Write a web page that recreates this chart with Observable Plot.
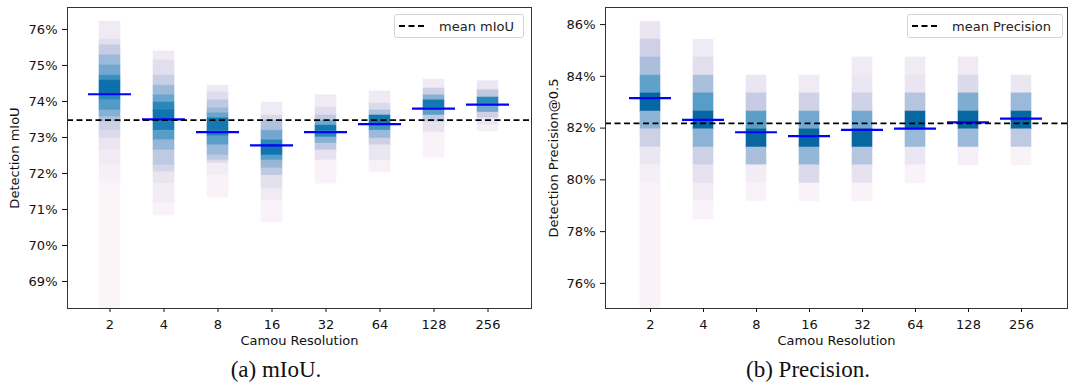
<!DOCTYPE html>
<html><head><meta charset="utf-8">
<script src="https://cdn.jsdelivr.net/npm/d3@7"></script>
<script src="https://cdn.jsdelivr.net/npm/@observablehq/plot@0.6"></script>
<style>
body{margin:0;background:#fff;}
#wrap{position:relative;width:1068px;height:383px;font-family:"DejaVu Sans",sans-serif;overflow:hidden;}
.panel{position:absolute;top:0;}
.legend{position:absolute;top:14px;height:24px;box-sizing:border-box;border:1px solid #d4d4d4;border-radius:3px;background:#fff;display:flex;align-items:center;font-size:13px;color:#222;}
.legend svg{flex:none;}
.caption{position:absolute;top:356px;line-height:28px;font-family:"Liberation Serif",serif;font-size:23px;color:#111;transform:translateX(-50%);white-space:nowrap;}
</style></head><body>
<div id="wrap">
  <div class="panel" id="left" style="left:0"></div>
  <div class="panel" id="right" style="left:534px"></div>
  <div class="legend" style="left:394px;width:130px"><svg width="44" height="10"><line x1="4" y1="5" x2="32" y2="5" stroke="#000" stroke-width="1.8" stroke-dasharray="6,3.5"/></svg><span>mean mIoU</span></div>
  <div class="legend" style="left:907px;width:156px"><svg width="44" height="10"><line x1="4" y1="5" x2="32" y2="5" stroke="#000" stroke-width="1.8" stroke-dasharray="6,3.5"/></svg><span>mean Precision</span></div>
  <div class="caption" style="left:276px">(a) mIoU.</div>
  <div class="caption" style="left:808px">(b) Precision.</div>
</div>
<script>
// ---------- categories & ticks ----------
const resolutions = ["2", "4", "8", "16", "32", "64", "128", "256"];
const miouTicks = [69, 70, 71, 72, 73, 74, 75, 76];
const precTicks = [76, 78, 80, 82, 84, 86];

// ---------- mIoU panel: density strips (bin edges top->bottom, densities per bin) ----------
const miouEdges2 = [76.22, 75.72, 75.56, 75.28, 75.00, 74.72, 74.58, 74.19, 74.03, 73.75, 73.56, 73.42, 73.19, 72.97, 72.64, 72.22, 71.81, 71.67, 68.25];
const miouDens2  = [0.10, 0.17, 0.28, 0.40, 0.50, 0.62, 0.76, 0.66, 0.57, 0.45, 0.35, 0.26, 0.20, 0.13, 0.09, 0.06, 0.04, 0.025];
const miouEdges4 = [75.39, 75.14, 74.72, 74.44, 74.17, 73.97, 73.75, 73.50, 73.19, 72.92, 72.64, 72.22, 72.03, 71.72, 71.17, 70.83];
const miouDens4  = [0.10, 0.17, 0.27, 0.40, 0.52, 0.66, 0.74, 0.70, 0.56, 0.42, 0.30, 0.22, 0.14, 0.08, 0.04];
const miouEdges8 = [74.44, 74.25, 74.03, 73.81, 73.67, 73.53, 73.17, 73.03, 72.78, 72.50, 72.36, 72.28, 71.94, 71.33];
const miouDens8  = [0.10, 0.18, 0.30, 0.40, 0.52, 0.72, 0.68, 0.55, 0.40, 0.30, 0.20, 0.08, 0.04];
const miouEdges16 = [73.97, 73.61, 73.47, 73.19, 72.92, 72.78, 72.50, 72.36, 72.14, 71.94, 71.58, 71.25, 70.64];
const miouDens16  = [0.10, 0.20, 0.35, 0.50, 0.66, 0.74, 0.56, 0.42, 0.30, 0.16, 0.10, 0.04];
const miouEdges32 = [74.17, 73.83, 73.61, 73.47, 73.33, 73.17, 73.00, 72.83, 72.64, 72.36, 71.72];
const miouDens32  = [0.10, 0.18, 0.30, 0.50, 0.72, 0.66, 0.45, 0.30, 0.15, 0.04];
const miouEdges64 = [74.28, 73.94, 73.75, 73.61, 73.36, 73.19, 72.97, 72.78, 72.36, 72.03];
const miouDens64  = [0.10, 0.20, 0.35, 0.72, 0.60, 0.40, 0.25, 0.12, 0.05];
const miouEdges128 = [74.61, 74.36, 74.17, 74.03, 73.81, 73.61, 73.42, 73.14, 72.44];
const miouDens128  = [0.10, 0.25, 0.45, 0.72, 0.55, 0.30, 0.15, 0.04];
const miouEdges256 = [74.56, 74.31, 74.11, 73.92, 73.69, 73.53, 73.33, 73.17];
const miouDens256  = [0.12, 0.30, 0.66, 0.50, 0.25, 0.12, 0.06];
const miouMeans = [74.20, 73.50, 73.15, 72.78, 73.15, 73.37, 73.80, 73.91];
const miouOverall = 73.48;

// ---------- Precision panel: shared bin edges (top->bottom), densities per bin ----------
const precEdges = [86.11, 85.42, 84.73, 84.03, 83.34, 82.64, 81.95, 81.25, 80.56, 79.86, 79.17, 78.47, 77.78, 77.08, 76.39, 75.69, 75.00];
const precDens2   = [0.13, 0.25, 0.36, 0.54, 0.80, 0.44, 0.25, 0.12, 0.07, 0.04, 0.04, 0.04, 0.04, 0.04, 0.04, 0.04];
const precDens4   = [null, 0.10, 0.17, 0.36, 0.56, 0.80, 0.44, 0.25, 0.15, 0.08, 0.04];
const precDens8   = [null, null, null, 0.13, 0.28, 0.55, 0.80, 0.36, 0.08, 0.04];
const precDens16  = [null, null, null, 0.10, 0.24, 0.50, 0.80, 0.42, 0.20, 0.04];
const precDens32  = [null, null, 0.10, 0.12, 0.24, 0.50, 0.80, 0.33, 0.15, 0.04];
const precDens64  = [null, null, 0.10, 0.13, 0.33, 0.80, 0.40, 0.12, 0.04];
const precDens128 = [null, null, 0.10, 0.20, 0.47, 0.80, 0.40, 0.06];
const precDens256 = [null, null, null, 0.12, 0.40, 0.80, 0.30, 0.04];
const precMeans = [83.16, 82.32, 81.84, 81.69, 81.93, 81.98, 82.22, 82.37];
const precOverall = 82.18;

// ---------- build tables ----------
const miouEdges = [miouEdges2, miouEdges4, miouEdges8, miouEdges16, miouEdges32, miouEdges64, miouEdges128, miouEdges256];
const miouDens = [miouDens2, miouDens4, miouDens8, miouDens16, miouDens32, miouDens64, miouDens128, miouDens256];
const miouRows = [];
resolutions.forEach((c, i) => miouDens[i].forEach((d, j) => miouRows.push({cat: c, hi: miouEdges[i][j], lo: miouEdges[i][j + 1], d})));

const precDens = [precDens2, precDens4, precDens8, precDens16, precDens32, precDens64, precDens128, precDens256];
const precRows = [];
resolutions.forEach((c, i) => precDens[i].forEach((d, j) => { if (d != null) precRows.push({cat: c, hi: precEdges[j], lo: precEdges[j + 1], d}); }));

function panel({rows, means, overall, domain, ticks, ylabel, width, ml, mr, labelDx}) {
  const meanRows = resolutions.map((c, i) => ({cat: c, v: means[i]}));
  return Plot.plot({
    width, height: 352, marginLeft: ml, marginRight: mr, marginTop: 7, marginBottom: 44,
    style: {fontFamily: "DejaVu Sans", fontSize: "13px", color: "#111", background: "transparent"},
    x: {type: "band", domain: resolutions, paddingInner: 0.2, paddingOuter: 0.38, align: 0.5, label: null, tickSize: 4, tickPadding: 7},
    y: {domain, ticks, tickFormat: d => d + "%", tickSize: 5, tickPadding: 5, label: null},
    color: {type: "linear", scheme: "PuBu", domain: [0, 1]},
    marks: [
      Plot.barY(rows, {x: "cat", y1: "lo", y2: "hi", fill: "d", stroke: "d", strokeWidth: 0.6, insetLeft: 11, insetRight: 11, clip: true}),
      Plot.tickY(meanRows, {x: "cat", y: "v", stroke: "#0000ff", strokeWidth: 2.2}),
      Plot.ruleY([overall], {stroke: "#000", strokeWidth: 1.8, strokeDasharray: "6,3.5"}),
      Plot.frame({stroke: "#333"}),
      Plot.text([ylabel], {frameAnchor: "left", dx: labelDx, rotate: -90, textAnchor: "middle", fontSize: 13, fill: "#111"}),
      Plot.text(["Camou Resolution"], {frameAnchor: "bottom", dy: 36, textAnchor: "middle", fontSize: 13, fill: "#111"})
    ]
  });
}

document.getElementById("left").append(panel({
  rows: miouRows, means: miouMeans, overall: miouOverall, domain: [68.25, 76.61], ticks: miouTicks,
  ylabel: "Detection mIoU", width: 540, ml: 67, mr: 9, labelDx: -53
}));
document.getElementById("right").append(panel({
  rows: precRows, means: precMeans, overall: precOverall, domain: [75.03, 86.66], ticks: precTicks,
  ylabel: "Detection Precision@0.5", width: 534, ml: 71, mr: 1, labelDx: -52
}));
</script>
</body></html>
